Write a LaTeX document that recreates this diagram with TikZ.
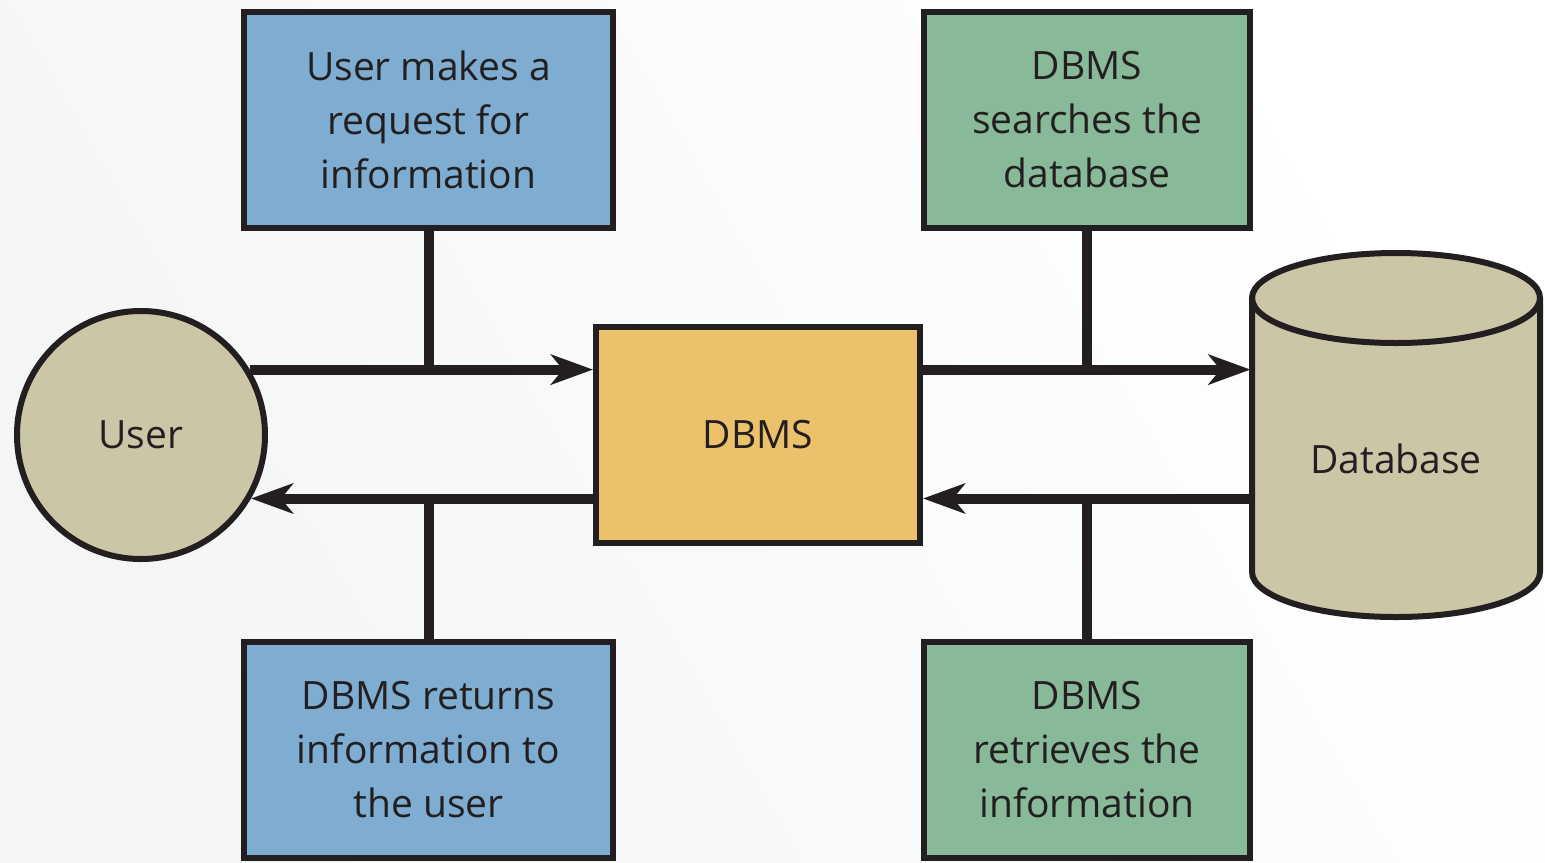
\documentclass[tikz,border=0pt]{standalone}
\usepackage{fontspec}
\setmainfont{Open Sans}
\usetikzlibrary{arrows.meta}
\definecolor{ink}{HTML}{231F20}
\definecolor{reqblue}{HTML}{7FADD2}
\definecolor{dbgreen}{HTML}{88B998}
\definecolor{coreyellow}{HTML}{EBC16C}
\definecolor{khaki}{HTML}{CAC6A6}
\definecolor{bgshade}{HTML}{F3F5F7}
\tikzset{
  label font/.style={text=ink, font=\fontsize{19.5pt}{27pt}\selectfont},
  box/.style={draw=ink, line width=3pt, rectangle, inner sep=0pt,
    align=center, label font},
  bluebox/.style={box, fill=reqblue, minimum width=184.5pt, minimum height=108pt},
  greenbox/.style={box, fill=dbgreen, minimum width=163pt, minimum height=108pt},
  flow/.style={draw=ink, line width=5pt},
  flowarrow/.style={flow, -{Stealth[length=21pt, width=15pt, inset=6pt]}},
}
\begin{document}
\begin{tikzpicture}[x=0.5pt, y=-0.5pt]
  % page and soft background
  \useasboundingbox (0,0) rectangle (1545,862);
  \shade[left color=bgshade, right color=white, shading angle=120]
    (0,0) rectangle (1545,862);

  % user and DBMS
  \node[circle, draw=ink, line width=3pt, fill=khaki, minimum size=124pt,
        inner sep=0pt, label font] (user) at (141,435) {User};
  \node[box, fill=coreyellow, minimum width=162pt, minimum height=108pt]
        (dbms) at (758,435) {DBMS};

  % horizontal rows of the flow lines, where they meet the user circle
  \coordinate (rowin) at (user.31.3);
  \coordinate (rowout) at (user.-30.8);

  % step boxes
  \node[bluebox] (req) at (428.5,120) {User makes a\\request for\\information};
  \node[bluebox] (ret) at (428.5,750) {DBMS returns\\information to\\the user};
  \node[greenbox] (search) at (1087,120) {DBMS\\searches the\\database};
  \node[greenbox] (fetch) at (1087,750) {DBMS\\retrieves the\\information};

  % database cylinder: body with front bottom rim, then the front rim of the top
  \filldraw[draw=ink, line width=3pt, fill=khaki]
    (1252,298) -- (1252,572) arc[start angle=180, end angle=0, x radius=144, y radius=45]
    -- (1540,298) arc[start angle=0, end angle=-180, x radius=144, y radius=45] -- cycle;
  \draw[ink, line width=3pt]
    (1252,298) arc[start angle=180, end angle=0, x radius=144, y radius=45];
  \node[label font] (db) at (1396,459) {Database};
  \coordinate (dbin) at (1250.5,0);
  \coordinate (dbout) at (1252,0);

  % connectors
  \draw[flowarrow] (rowin) -- (dbms.west |- rowin);
  \draw[flowarrow] (dbms.west |- rowout) -- (rowout);
  \draw[flowarrow] (dbms.east |- rowin) -- (dbin |- rowin);
  \draw[flowarrow] (dbout |- rowout) -- (dbms.east |- rowout);
  \draw[flow] (req.south) -- (req.south |- rowin);
  \draw[flow] (ret.north) -- (ret.north |- rowout);
  \draw[flow] (search.south) -- (search.south |- rowin);
  \draw[flow] (fetch.north) -- (fetch.north |- rowout);
\end{tikzpicture}
\end{document}
